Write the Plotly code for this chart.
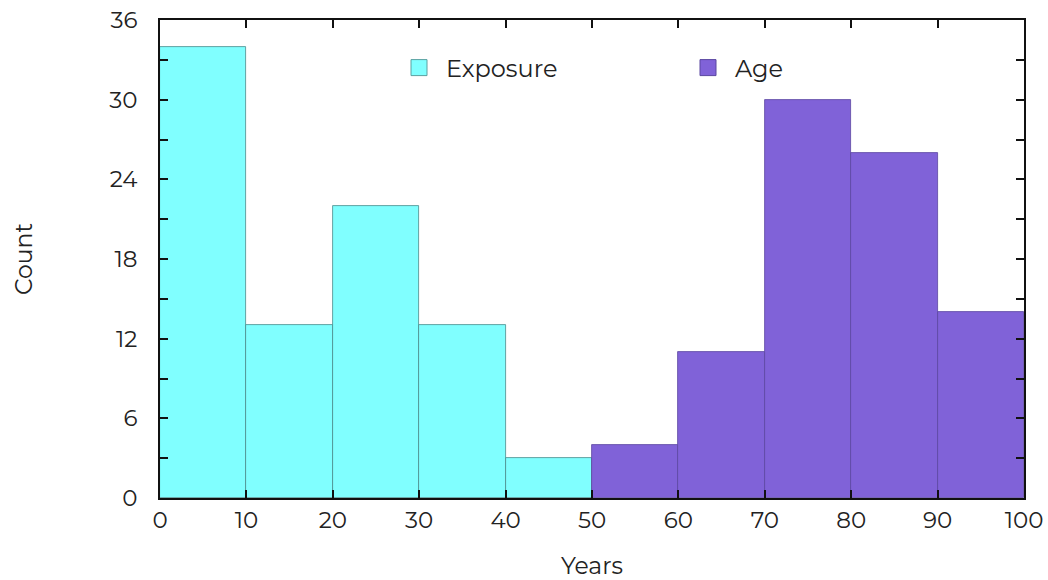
import plotly.graph_objects as go

exposure_bins = [0, 10, 20, 30, 40]
exposure_counts = [34, 13, 22, 13, 3]
age_bins = [50, 60, 70, 80, 90]
age_counts = [4, 11, 30, 26, 14]
bin_width = 10

cyan = "#80FFFF"
purple = "#8062D8"
font = "Montserrat, Lato, 'Open Sans', sans-serif"

fig = go.Figure()
fig.add_trace(go.Bar(x=exposure_bins, y=exposure_counts, width=bin_width, offset=0,
                     marker=dict(color=cyan, line=dict(color="#4a8a8a", width=0.8)),
                     showlegend=False, name="Exposure"))
fig.add_trace(go.Bar(x=age_bins, y=age_counts, width=bin_width, offset=0,
                     marker=dict(color=purple, line=dict(color="#5a46a0", width=0.8)),
                     showlegend=False, name="Age"))
# legend entries
fig.add_trace(go.Scatter(x=[None], y=[None], mode="markers", name="Exposure",
                         legend="legend",
                         marker=dict(symbol="square", size=22, color=cyan,
                                     line=dict(color="#5aa0a0", width=1))))
fig.add_trace(go.Scatter(x=[None], y=[None], mode="markers", name="Age",
                         legend="legend2",
                         marker=dict(symbol="square", size=22, color=purple,
                                     line=dict(color="#5a46a0", width=1))))

W, H = 1048, 580
ml, mr, mt, mb = 160, 24, 20, 82
pw = W - ml - mr
ph = H - mt - mb


def px_x(p):  # page x -> paper fraction
    return (p - ml) / pw


def px_y(p):  # page y -> paper fraction
    return 1 - (p - mt) / ph


leg_common = dict(xanchor="left", yanchor="middle", itemwidth=44,
                  font=dict(size=24, color="#222"), bgcolor="rgba(0,0,0,0)",
                  borderwidth=0)

fig.update_layout(
    width=W, height=H,
    margin=dict(l=ml, r=mr, t=mt, b=mb),
    plot_bgcolor="white", paper_bgcolor="white",
    font=dict(family=font, size=23, color="#222"),
    bargap=0,
    legend=dict(x=px_x(392), y=px_y(68), **leg_common),
    legend2=dict(x=px_x(681), y=px_y(68), **leg_common),
    xaxis=dict(range=[0, 100], dtick=10, tick0=0, ticks="inside", ticklen=8,
               tickwidth=2, tickcolor="#111", showline=True, linecolor="#111",
               linewidth=2, mirror="ticks", showgrid=False, zeroline=False,
               automargin=False, ticklabelstandoff=0, ticklabeloverflow="allow",
               title=dict(text="Years", standoff=34, font=dict(size=23.5))),
    yaxis=dict(range=[0, 36], dtick=6, tick0=0, ticks="inside", ticklen=8,
               tickwidth=2, tickcolor="#111", showline=True, linecolor="#111",
               linewidth=2, mirror="ticks", showgrid=False, zeroline=False,
               automargin=False, ticklabelstandoff=16, ticklabeloverflow="allow",
               minor=dict(dtick=3, ticks="inside", ticklen=8, tickwidth=2,
                          tickcolor="#111", showgrid=False),
               title=dict(text="Count", standoff=70, font=dict(size=23.5))),
)

fig.write_html("out.html",
               config={"displayModeBar": False},
               post_script="document.body.style.margin='0';"
                           "document.body.style.overflow='hidden';")
